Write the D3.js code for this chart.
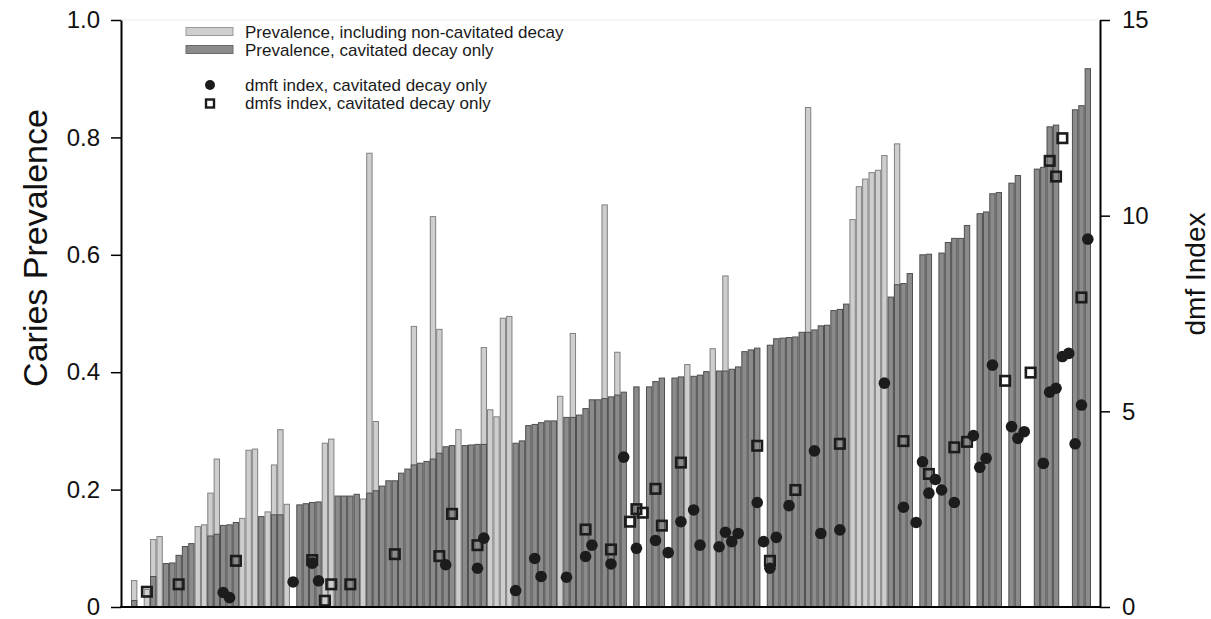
<!DOCTYPE html>
<html>
<head>
<meta charset="utf-8">
<script src="https://cdn.jsdelivr.net/npm/d3@7"></script>
<style>
	body { margin: 0; background: #fff; }
	svg { display: block; font-family: Arial, "Liberation Sans", sans-serif; }
</style>
</head>
<body>
<div id="chart"></div>
<script>
// one slot per study, sorted by cavitated prevalence (null = not reported)
var cavitated = [
	0.011, null, null, 0.052, null, 0.074, 0.075, 0.088, 0.103, 0.108,
	null, null, 0.121, 0.124, 0.139, 0.140, 0.144, null, null, null,
	0.154, null, 0.157, 0.157, null, null, 0.174, 0.176, 0.178, 0.179,
	null, null, 0.189, 0.189, 0.189, 0.192, null, 0.194, 0.198, 0.206,
	0.215, 0.215, 0.228, 0.235, 0.242, 0.245, 0.248, 0.252, 0.262, 0.273,
	0.275, null, 0.275, 0.276, 0.277, 0.277, null, null, null, null,
	0.279, 0.283, 0.309, 0.311, 0.314, 0.317, 0.317, null, 0.323, 0.323,
	0.327, 0.338, 0.353, 0.353, 0.355, 0.358, 0.361, 0.366, null, 0.375,
	null, 0.375, 0.384, 0.390, null, 0.390, 0.392, null, 0.393, 0.395,
	0.401, null, 0.402, 0.402, 0.405, 0.409, 0.435, 0.438, 0.441, null,
	0.446, 0.457, 0.458, 0.459, 0.460, 0.468, 0.468, 0.472, 0.479, 0.480,
	0.505, 0.507, 0.516, null, null, null, null, null, null, 0.528,
	0.549, 0.551, 0.568, null, 0.600, 0.601, null, 0.603, 0.621, 0.628,
	0.628, 0.650, null, 0.670, 0.673, 0.704, 0.706, null, 0.722, 0.735,
	null, null, 0.746, 0.749, 0.818, 0.821, null, null, 0.847, 0.854,
	0.917
];

var inclNonCavitated = [
	0.045, null, 0.030, 0.115, 0.120, null, null, null, null, null,
	0.137, 0.140, 0.194, 0.252, null, null, null, 0.151, 0.267, 0.269,
	null, 0.162, 0.242, 0.302, 0.175, null, null, null, null, null,
	0.279, 0.286, null, null, null, null, 0.184, 0.773, 0.316, null,
	null, null, null, null, 0.478, null, null, 0.665, 0.473, null,
	null, 0.302, null, null, null, 0.442, 0.336, 0.324, 0.492, 0.495,
	null, null, null, null, null, null, null, 0.359, null, 0.466,
	null, null, null, null, 0.685, null, 0.434, null, null, null,
	null, null, null, null, null, null, null, 0.413, null, null,
	null, 0.440, null, 0.564, null, null, null, null, null, null,
	null, null, null, null, null, null, 0.851, null, null, null,
	null, null, null, 0.660, 0.716, 0.729, 0.740, 0.744, 0.769, null,
	0.789, null, null, null, null, null, null, null, null, null,
	null, null, null, null, null, null, null, null, null, null,
	null, null, null, null, null, null, null, null, null, null,
	null
];

var dmft = [
	null, null, null, null, null, null, null, null, null, null,
	null, null, null, null, 0.37, 0.24, null, null, null, null,
	null, null, null, null, null, 0.64, null, null, 1.12, 0.67,
	null, null, null, null, null, null, null, null, null, null,
	null, null, null, null, null, null, null, null, null, 1.08,
	null, null, null, null, 0.99, 1.76, null, null, null, null,
	0.42, null, null, 1.24, 0.78, null, null, null, 0.76, null,
	null, 1.29, 1.58, null, null, 1.10, null, 3.83, null, 1.50,
	null, null, 1.70, null, 1.39, null, 2.18, null, 2.48, 1.58,
	null, null, 1.54, 1.91, 1.67, 1.88, null, null, 2.67, 1.67,
	0.99, 1.78, null, 2.59, null, null, null, 3.99, 1.88, null,
	null, 1.97, null, null, null, null, null, null, 5.72, null,
	null, 2.55, null, 2.16, 3.71, 2.91, 3.26, 2.99, null, 2.67,
	null, null, 4.38, 3.57, 3.80, 6.18, null, null, 4.61, 4.31,
	4.48, null, null, 3.67, 5.49, 5.59, 6.40, 6.48, 4.17, 5.16,
	9.40
];

var dmfs = [
	null, null, 0.39, null, null, null, null, 0.58, null, null,
	null, null, null, null, null, null, 1.18, null, null, null,
	null, null, null, null, null, null, null, null, 1.20, null,
	0.16, 0.58, null, null, 0.58, null, null, null, null, null,
	null, 1.35, null, null, null, null, null, null, 1.30, null,
	2.38, null, null, null, 1.58, null, null, null, null, null,
	null, null, null, null, null, null, null, null, null, null,
	null, 1.98, null, null, null, 1.47, null, null, 2.18, 2.50,
	2.41, null, 3.02, 2.08, null, null, 3.69, null, null, null,
	null, null, null, null, null, null, null, null, 4.12, null,
	1.18, null, null, null, 2.99, null, null, null, null, null,
	null, 4.17, null, null, null, null, null, null, null, null,
	null, 4.24, null, null, null, 3.40, null, null, null, 4.08,
	null, 4.22, null, null, null, null, null, 5.78, null, null,
	null, 5.99, null, null, 11.40, 11.00, 11.98, null, null, 7.91,
	null
];

var prevTicks = [0, 0.2, 0.4, 0.6, 0.8, 1.0],
	dmfTicks = [0, 5, 10, 15],
	legendLabels = [
		"Prevalence, including non-cavitated decay",
		"Prevalence, cavitated decay only",
		"dmft index, cavitated decay only",
		"dmfs index, cavitated decay only"
	];

// layout
var w = 1211,
	h = 619,
	plotLeft = 121,
	plotRight = 1100,
	plotTop = 20,
	plotBottom = 607,
	lightFill = "#cecece",
	lightStroke = "#808080",
	darkFill = "#8b8b8b",
	darkStroke = "#4e4e4e",
	markColor = "#1c1c1c";

var svg = d3.select("#chart").append("svg")
	.attr("width", w)
	.attr("height", h);

var x = d3.scaleBand()
	.domain(d3.range(cavitated.length))
	.range([131, 1091])
	.paddingInner(0);

var yPrev = d3.scaleLinear().domain([0, 1]).range([plotBottom, plotTop]);
var yDmf = d3.scaleLinear().domain([0, 15]).range([plotBottom, plotTop]);

var toPoints = function(arr) {
	var out = [];
	arr.forEach(function(v, i) {
		if (v !== null) out.push({i: i, v: v});
	});
	return out;
};

// faint frame line along the top
svg.append("line")
	.attr("x1", plotLeft).attr("x2", plotRight)
	.attr("y1", plotTop).attr("y2", plotTop)
	.attr("stroke", "#ececec")
	.attr("stroke-width", 1);

// bars: the lighter (incl. non-cavitated) bar sits behind the cavitated one
svg.append("g").selectAll("rect")
	.data(toPoints(inclNonCavitated))
	.enter().append("rect")
	.attr("x", function(d) { return x(d.i) + 0.5; })
	.attr("y", function(d) { return yPrev(d.v); })
	.attr("width", x.bandwidth() - 1)
	.attr("height", function(d) { return plotBottom - yPrev(d.v); })
	.attr("fill", lightFill)
	.attr("stroke", lightStroke)
	.attr("stroke-width", 1);

svg.append("g").selectAll("rect")
	.data(toPoints(cavitated))
	.enter().append("rect")
	.attr("x", function(d) { return x(d.i) + 0.5; })
	.attr("y", function(d) { return yPrev(d.v); })
	.attr("width", x.bandwidth() - 1)
	.attr("height", function(d) { return plotBottom - yPrev(d.v); })
	.attr("fill", darkFill)
	.attr("stroke", darkStroke)
	.attr("stroke-width", 1);

// dmfs squares, then dmft circles on top
var sq = 9.5;
svg.append("g").selectAll("rect")
	.data(toPoints(dmfs))
	.enter().append("rect")
	.attr("x", function(d) { return x(d.i) + x.bandwidth() / 2 - sq / 2; })
	.attr("y", function(d) { return yDmf(d.v) - sq / 2; })
	.attr("width", sq)
	.attr("height", sq)
	.attr("fill", "none")
	.attr("stroke", markColor)
	.attr("stroke-width", 2.6);

svg.append("g").selectAll("circle")
	.data(toPoints(dmft))
	.enter().append("circle")
	.attr("cx", function(d) { return x(d.i) + x.bandwidth() / 2; })
	.attr("cy", function(d) { return yDmf(d.v); })
	.attr("r", 5.8)
	.attr("fill", markColor);

// axes
var leftAxis = svg.append("g")
	.attr("transform", "translate(" + plotLeft + ",0)")
	.call(d3.axisLeft(yPrev)
		.tickValues(prevTicks)
		.tickSize(10)
		.tickSizeOuter(0)
		.tickPadding(11)
		.tickFormat(function(d) { return d === 0 ? "0" : d3.format(".1f")(d); }));

var rightAxis = svg.append("g")
	.attr("transform", "translate(" + plotRight + ",0)")
	.call(d3.axisRight(yDmf)
		.tickValues(dmfTicks)
		.tickSize(10)
		.tickSizeOuter(0)
		.tickPadding(12));

[leftAxis, rightAxis].forEach(function(ax) {
	ax.select(".domain").attr("stroke", "#000").attr("stroke-width", 2);
	ax.selectAll(".tick line").attr("stroke", "#000").attr("stroke-width", 1.5);
	ax.selectAll(".tick text")
		.attr("fill", "#111")
		.style("font-size", "24px")
		.style("font-family", "Arial, 'Liberation Sans', sans-serif");
});

svg.append("line")
	.attr("x1", plotLeft - 1).attr("x2", plotRight + 1)
	.attr("y1", plotBottom).attr("y2", plotBottom)
	.attr("stroke", "#000")
	.attr("stroke-width", 2);

// axis titles
svg.append("text")
	.attr("transform", "translate(47,248) rotate(-90)")
	.attr("text-anchor", "middle")
	.style("font-size", "34px")
	.attr("fill", "#111")
	.text("Caries Prevalence");

svg.append("text")
	.attr("transform", "translate(1205,274) rotate(-90)")
	.attr("text-anchor", "middle")
	.style("font-size", "28px")
	.attr("fill", "#111")
	.text("dmf Index");

// legend
var legend = svg.append("g");
legend.append("rect")
	.attr("x", 186).attr("y", 27.5).attr("width", 47).attr("height", 8)
	.attr("fill", lightFill).attr("stroke", "#9a9a9a").attr("stroke-width", 1);
legend.append("rect")
	.attr("x", 186).attr("y", 45.5).attr("width", 47).attr("height", 8)
	.attr("fill", darkFill).attr("stroke", "#6a6a6a").attr("stroke-width", 1);
legend.append("circle")
	.attr("cx", 210).attr("cy", 85).attr("r", 5)
	.attr("fill", markColor);
legend.append("rect")
	.attr("x", 206).attr("y", 99.5).attr("width", 8).attr("height", 8)
	.attr("fill", "none").attr("stroke", markColor).attr("stroke-width", 2.4);

var legendY = [37.5, 55.5, 90.5, 109];
legend.selectAll("text")
	.data(legendLabels)
	.enter().append("text")
	.attr("x", 245)
	.attr("y", function(d, i) { return legendY[i]; })
	.style("font-size", "17px")
	.attr("fill", "#1a1a1a")
	.text(function(d) { return d; });
</script>
</body>
</html>
